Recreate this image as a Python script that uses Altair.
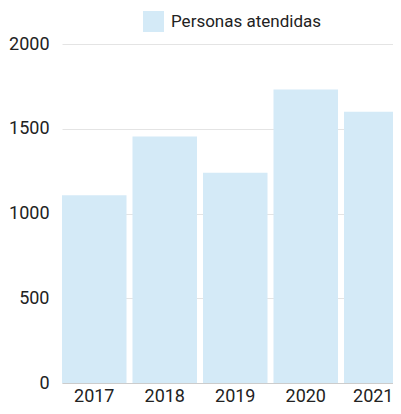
import altair as alt
import pandas as pd

years = ["2017", "2018", "2019", "2020", "2021"]
personas = [1108, 1455, 1241, 1731, 1600]
serie = "Personas atendidas"
y_ticks = [0, 500, 1000, 1500, 2000]

df = pd.DataFrame({"year": years, "value": personas, "serie": [serie] * len(years)})

chart = (
    alt.Chart(df)
    .mark_bar(clip=True)
    .encode(
        x=alt.X(
            "year:N",
            title=None,
            sort=years,
            scale=alt.Scale(range=[0, 346.5], paddingInner=0.085, paddingOuter=0),
            axis=alt.Axis(
                labelAngle=0, ticks=False, labelPadding=18.5,
                labelBaseline="alphabetic", domainColor="#cccccc", grid=False,
                labelOffset={"condition": {"test": "datum.value === '2021'", "value": -3},
                             "value": 0},
            ),
        ),
        y=alt.Y(
            "value:Q",
            title=None,
            scale=alt.Scale(domain=[0, 2000], nice=False),
            axis=alt.Axis(values=y_ticks, format="d", ticks=False, domain=False,
                          labelPadding=13, gridColor="#e4e4e4"),
        ),
        color=alt.Color(
            "serie:N",
            title=None,
            scale=alt.Scale(range=["#d4eaf7"]),
            legend=alt.Legend(orient="none", legendX=81, legendY=-33, symbolType="square",
                              symbolSize=441, symbolStrokeWidth=0, symbolOpacity=1,
                              labelOffset=7, padding=0, labelFontSize=17),
        ),
    )
    .properties(
        width=331,
        height=339,
        autosize=alt.AutoSizeParams(type="none"),
        padding={"left": 54, "top": 36, "right": 0, "bottom": 23},
    )
    .configure_view(stroke=None)
    .configure_axis(labelFont="Roboto", labelFontSize=18, labelColor="#222222")
    .configure_legend(labelFont="Roboto", labelColor="#222222")
)

chart.save("out.html", embed_options={"renderer": "svg", "actions": False})
